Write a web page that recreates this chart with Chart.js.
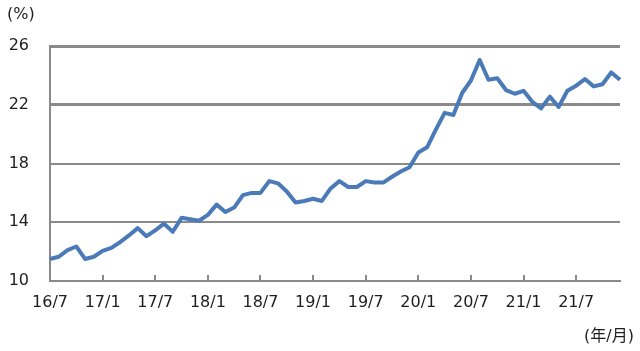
<!DOCTYPE html>
<html>
<head>
<meta charset="utf-8">
<script src="https://cdn.jsdelivr.net/npm/chart.js@4"></script>
<style>
  body { margin: 0; background: #fff; }
  #wrap { width: 640px; height: 351px; position: relative; }
</style>
</head>
<body>
<div id="wrap"><canvas id="chart"></canvas></div>
<script>
// months on the x axis (year/month)
const months = [
  "16/7", "16/8", "16/9", "16/10", "16/11", "16/12",
  "17/1", "17/2", "17/3", "17/4", "17/5", "17/6", "17/7", "17/8", "17/9", "17/10", "17/11", "17/12",
  "18/1", "18/2", "18/3", "18/4", "18/5", "18/6", "18/7", "18/8", "18/9", "18/10", "18/11", "18/12",
  "19/1", "19/2", "19/3", "19/4", "19/5", "19/6", "19/7", "19/8", "19/9", "19/10", "19/11", "19/12",
  "20/1", "20/2", "20/3", "20/4", "20/5", "20/6", "20/7", "20/8", "20/9", "20/10", "20/11", "20/12",
  "21/1", "21/2", "21/3", "21/4", "21/5", "21/6", "21/7", "21/8", "21/9", "21/10", "21/11", "21/12"
];

// shown tick labels
const tickLabels = ["16/7", "17/1", "17/7", "18/1", "18/7", "19/1", "19/7", "20/1", "20/7", "21/1", "21/7"];

// share (%)
const shareValues = [
  11.5, 11.65, 12.1, 12.35, 11.5, 11.65,
  12.05, 12.25, 12.65, 13.1, 13.6, 13.05, 13.45, 13.9, 13.35, 14.3, 14.2, 14.1,
  14.5, 15.2, 14.7, 15.0, 15.85, 16.0, 16.0, 16.8, 16.65, 16.1, 15.35, 15.45,
  15.6, 15.45, 16.3, 16.8, 16.4, 16.4, 16.8, 16.7, 16.7, 17.1, 17.45, 17.75,
  18.75, 19.1, 20.3, 21.45, 21.3, 22.8, 23.65, 25.05, 23.7, 23.8, 23.0, 22.75,
  22.95, 22.2, 21.75, 22.55, 21.85, 22.95, 23.3, 23.75, 23.25, 23.4, 24.2, 23.7
];

const yTicks = { min: 10, max: 26, step: 4 };

const gridColor = "#8a8a8a";
const textColor = "#1e1e1e";
const lineColor = "#4a7ab8";
const fontFamily = "'DejaVu Sans', Verdana, 'Noto Sans CJK JP', sans-serif";

// small inward tick marks and the unit labels
const extrasPlugin = {
  id: "extras",
  afterDraw(chart) {
    const ctx = chart.ctx;
    const area = chart.chartArea;
    const xScale = chart.scales.x;
    ctx.save();
    ctx.strokeStyle = gridColor;
    ctx.lineWidth = 2;
    months.forEach((m, i) => {
      if (i > 0 && tickLabels.includes(m)) {
        const px = Math.round(xScale.getPixelForValue(i));
        ctx.beginPath();
        ctx.moveTo(px, area.bottom);
        ctx.lineTo(px, area.bottom - 6);
        ctx.stroke();
      }
    });

    ctx.fillStyle = textColor;
    ctx.font = "16px " + fontFamily;
    ctx.textBaseline = "middle";
    ctx.textAlign = "left";
    ctx.fillText("(%)", 7, 15);
    ctx.textAlign = "right";
    ctx.fillText("(年/月)", 634, 337);
    ctx.restore();
  }
};

new Chart(document.getElementById("chart"), {
  type: "line",
  data: {
    labels: months,
    datasets: [
      {
        data: shareValues,
        borderColor: lineColor,
        borderWidth: 4,
        borderJoinStyle: "round",
        pointRadius: 0,
        tension: 0,
        fill: false,
      },
    ],
  },
  options: {
    responsive: true,
    maintainAspectRatio: false,
    animation: false,
    layout: { padding: { top: 46, right: 20, left: 0, bottom: 0 } },
    plugins: {
      legend: { display: false },
      tooltip: { enabled: false },
    },
    scales: {
      x: {
        offset: false,
        grid: { display: false, drawTicks: false },
        border: { display: true, color: gridColor, width: 2 },
        ticks: {
          autoSkip: false,
          maxRotation: 0,
          padding: 12,
          color: textColor,
          font: { family: fontFamily, size: 16 },
          callback: function (val) {
            const l = this.getLabelForValue(val);
            return tickLabels.includes(l) ? l : "";
          },
        },
        afterFit: (scale) => {
          scale.height = 70;
        },
      },
      y: {
        min: yTicks.min,
        max: yTicks.max,
        grid: {
          drawTicks: false,
          color: gridColor,
          lineWidth: (c) => (c.tick && c.tick.value >= 22 ? 3 : 2),
        },
        border: { display: true, color: gridColor, width: 2 },
        ticks: {
          stepSize: yTicks.step,
          padding: 21,
          color: textColor,
          font: { family: fontFamily, size: 16 },
        },
        afterFit: (scale) => {
          scale.width = 50;
        },
      },
    },
  },
  plugins: [extrasPlugin],
});
</script>
</body>
</html>
